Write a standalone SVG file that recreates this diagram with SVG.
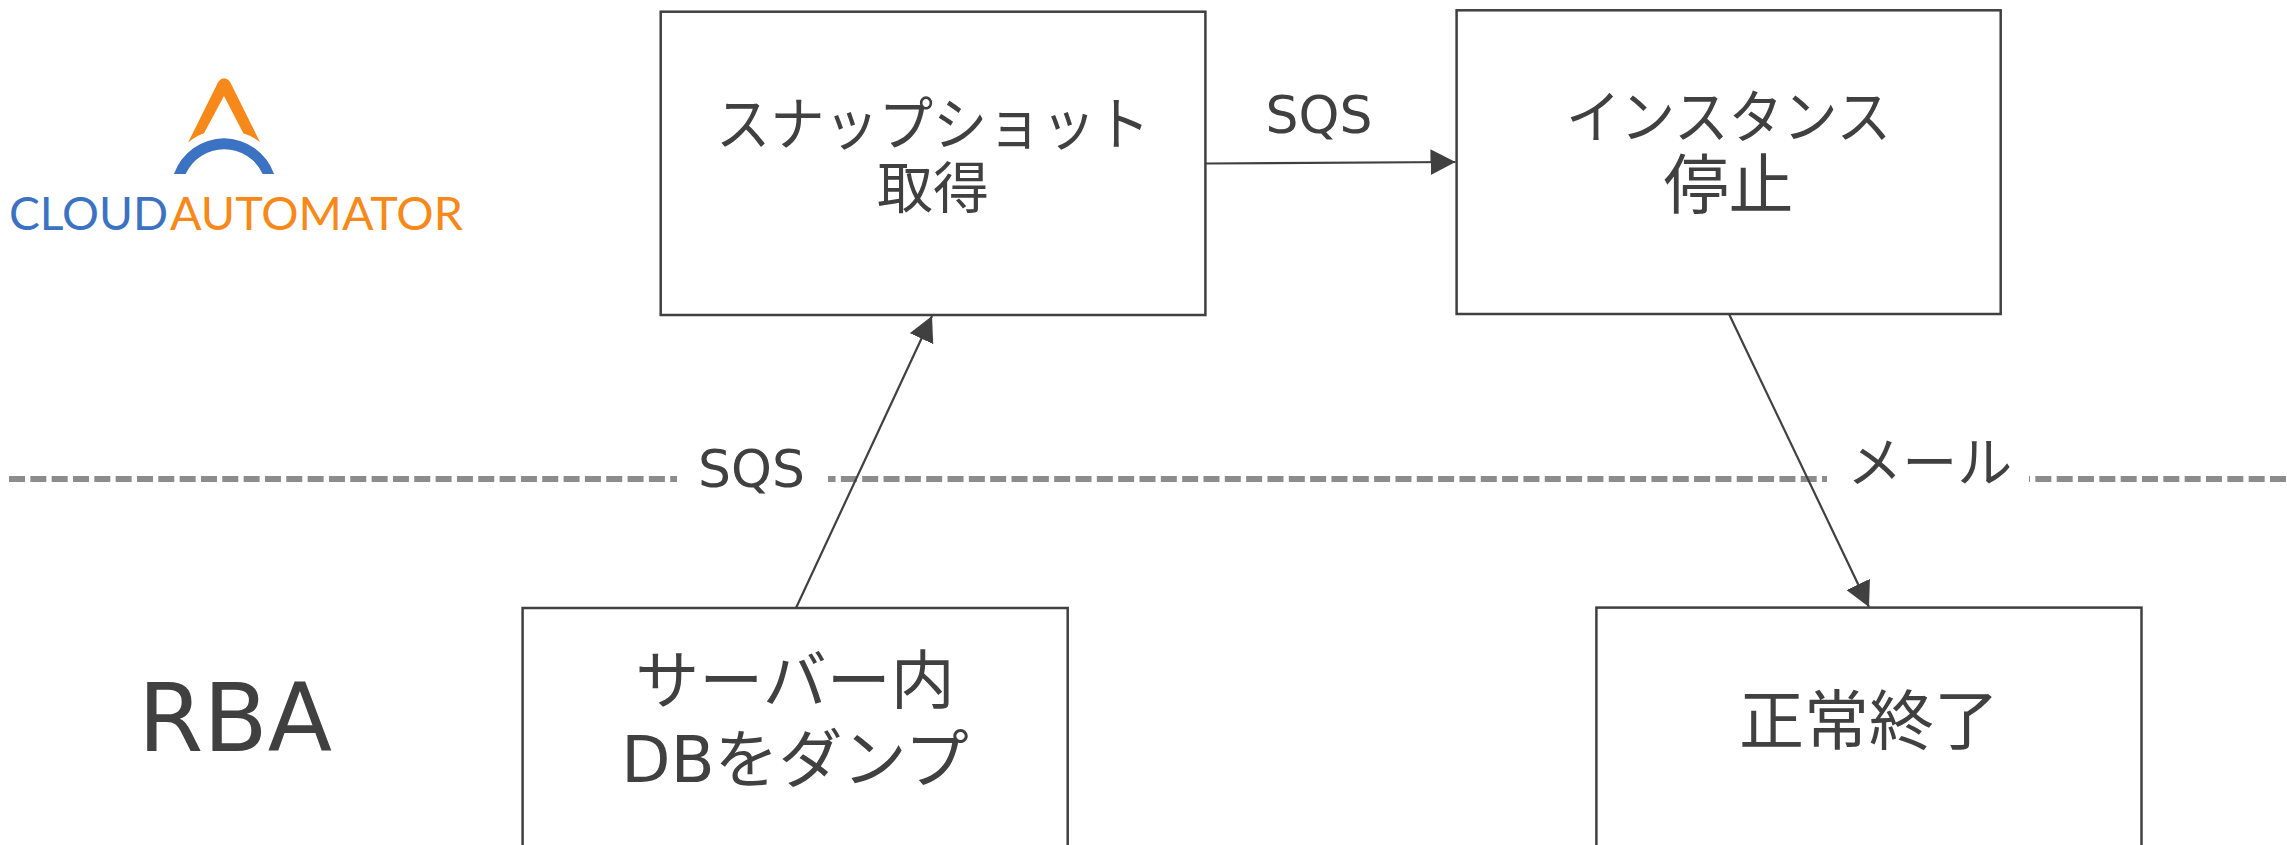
<svg xmlns="http://www.w3.org/2000/svg" width="2287" height="845" viewBox="0 0 2287 845">
<style>
.box{fill:#fff;stroke:#404040;stroke-width:2.5}
.t{fill:#404040;font-family:"DejaVu Sans","Noto Sans CJK JP",sans-serif;text-anchor:middle;font-weight:400}
.j{font-size:65px}
.k{font-size:56px}
.l{font-size:52px}
.c{fill:none;stroke:#404040;stroke-width:2.2}
.d{stroke:#8c8c8c;stroke-width:6;stroke-dasharray:16 5.33;fill:none}
</style>
<defs><marker id="a" markerUnits="userSpaceOnUse" markerWidth="26" markerHeight="26" refX="25" refY="13" orient="auto"><path d="M0,0L25,13L0,26Z" fill="#404040"/></marker></defs>
<g id="logo">
<path d="M188,142.7L218.3,81.7Q224,75 230,81.7L260,142Q252,136 243.3,133.3L224,96L204,133.3Q196,136 188,142.7Z" fill="#f7891a"/>
<path d="M174,174A52.9,52.9 0 0 1 274,174H262.7A42.3,42.3 0 0 0 185.7,174Z" fill="#3b73c2"/>
<text x="9" y="230" font-family="Lato,'Open Sans',sans-serif" font-weight="400" font-size="46" fill="#3b73c2" textLength="159" lengthAdjust="spacingAndGlyphs">CLOUD</text>
<text x="170" y="230" font-family="Lato,'Open Sans',sans-serif" font-weight="400" font-size="46" fill="#f7891a" textLength="293" lengthAdjust="spacingAndGlyphs">AUTOMATOR</text>
</g>
<g id="divider"><path class="d" d="M9,479H2287"/></g>
<g id="connectors">
<path class="c" d="M1206,163.5L1455.5,162" marker-end="url(#a)"/>
<path class="c" d="M796,608L932,316" marker-end="url(#a)"/>
<path class="c" d="M1729,314L1869,607" marker-end="url(#a)"/>
</g>
<g id="label-sqs-1"><text class="t l" x="1319" y="133">SQS</text></g>
<g id="label-sqs-2"><rect x="677" y="465" width="151" height="30" fill="#fff"/><text class="t l" x="751.5" y="487">SQS</text></g>
<g id="label-mail"><rect x="1827" y="465" width="202" height="30" fill="#fff"/><text class="t" font-size="55" x="1929.7" y="482">メール</text></g>
<g id="label-rba"><text class="t" font-size="94" x="235" y="751">RBA</text></g>
<g id="node-snapshot"><rect class="box" x="660.7" y="11.7" width="544.7" height="303.3"/><text class="t" font-size="58" x="933" y="145" textLength="434" lengthAdjust="spacingAndGlyphs">スナップショット</text><text class="t k" x="933" y="208">取得</text></g>
<g id="node-stop"><rect class="box" x="1456.6" y="10.3" width="544.1" height="303.7"/><text class="t" font-size="58" x="1728.6" y="138" textLength="325" lengthAdjust="spacingAndGlyphs">インスタンス</text><text class="t j" x="1728.6" y="208">停止</text></g>
<g id="node-dump"><rect class="box" x="522.6" y="608" width="545.1" height="260"/><text class="t" font-size="64" x="795" y="703">サーバー内</text><text class="t" font-size="64" x="795" y="782">DBをダンプ</text></g>
<g id="node-done"><rect class="box" x="1596.4" y="607.6" width="545.1" height="260"/><text class="t j" x="1869" y="744">正常終了</text></g>
</svg>
